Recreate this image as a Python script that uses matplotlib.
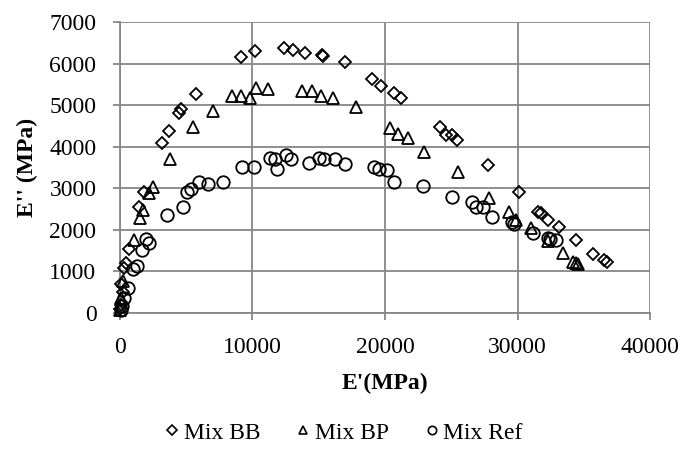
import matplotlib
matplotlib.use("Agg")
import matplotlib.pyplot as plt
from matplotlib.lines import Line2D

plt.rcParams['font.family'] = ['Liberation Serif', 'DejaVu Serif']

bb_x = [20, 50, 100, 200, 330, 450, 650, 1410, 1840, 3180, 3730, 4440, 4620, 5730,
        9170, 10170, 12390, 13080, 13960, 15230, 15350, 16990, 19020, 19700, 20700,
        21210, 24140, 24570, 25080, 25450, 27770, 30120, 31560, 31770, 32320, 33130,
        34440, 35700, 36510, 36770]
bb_y = [100, 200, 700, 500, 1080, 1200, 1540, 2560, 2920, 4090, 4380, 4810, 4900, 5265,
        6150, 6300, 6380, 6330, 6250, 6200, 6185, 6030, 5625, 5450, 5300,
        5160, 4470, 4290, 4290, 4150, 3550, 2900, 2440, 2400, 2240, 2080,
        1745, 1425, 1280, 1215]

bp_x = [30, 80, 200, 1080, 1510, 1710, 2220, 2470, 3810, 5500, 7020, 8480, 9170, 9800,
        10250, 11180, 13710, 14470, 15150, 16110, 17800, 20400, 20980, 21740, 22980,
        25530, 27850, 29360, 29870, 31010, 32320, 33430, 34170, 34420, 34550]
bp_y = [80, 350, 760, 1760, 2280, 2480, 2880, 3040, 3700, 4470, 4850, 5210, 5225, 5170,
        5410, 5385, 5345, 5330, 5210, 5170, 4950, 4460, 4300, 4220, 3880,
        3400, 2760, 2430, 2240, 2040, 1720, 1440, 1215, 1200, 1185]

ref_x = [40, 120, 330, 580, 1010, 1260, 1640, 1970, 2170, 3530, 4740, 5050, 5380, 5930,
         6640, 7770, 9210, 10100, 11310, 11690, 11820, 12500, 12900, 14290, 15050,
         15420, 16230, 16990, 19140, 19520, 20150, 20700, 22850, 25080, 26590, 26840,
         27420, 28110, 29620, 29740, 31140, 32270, 32470, 32900]
ref_y = [60, 180, 360, 600, 1060, 1140, 1505, 1780, 1680, 2360, 2560, 2900, 2980, 3140,
         3100, 3160, 3500, 3500, 3740, 3700, 3460, 3805, 3700, 3605, 3740,
         3700, 3710, 3580, 3510, 3460, 3430, 3140, 3045, 2800, 2680, 2550,
         2550, 2300, 2180, 2150, 1925, 1800, 1780, 1760]

series_labels = ["Mix BB", "Mix BP", "Mix Ref"]
x_ticks = [0, 10000, 20000, 30000, 40000]
y_ticks = [0, 1000, 2000, 3000, 4000, 5000, 6000, 7000]

fig = plt.figure(figsize=(6.88, 4.67), dpi=100)
ax = fig.add_axes([0.1744, 0.3298, 0.7704, 0.6231])

grey = '#878787'
mk = dict(linestyle='none', markerfacecolor='none', markeredgecolor='black',
          markeredgewidth=1.3, clip_on=False, zorder=3)
ax.plot(bb_x, bb_y, marker='D', markersize=6.5, label=series_labels[0], **mk)
ax.plot(bp_x, bp_y, marker='^', markersize=8.5, label=series_labels[1], **mk)
ax.plot(ref_x, ref_y, marker='o', markersize=9, label=series_labels[2], **mk)

ax.set_xlim(0, 40000)
ax.set_ylim(0, 7000)
ax.set_xticks(x_ticks)
ax.set_yticks(y_ticks)
ax.grid(True, color=grey, linewidth=1.3)
ax.set_axisbelow(True)
for s in ['top', 'right']:
    ax.spines[s].set_visible(False)
for s in ['left', 'bottom']:
    ax.spines[s].set_color(grey)
    ax.spines[s].set_linewidth(1.3)
ax.tick_params(axis='both', direction='out', length=5, width=1.3, color=grey,
               labelsize=17)
ax.tick_params(axis='x', pad=12)
ax.tick_params(axis='y', pad=12)

ax.set_xlabel("E'(MPa)", fontsize=17, fontweight='bold', labelpad=11)
ax.set_ylabel("E'' (MPa)", fontsize=17, fontweight='bold', labelpad=8)

handles = [
    Line2D([], [], marker='D', markersize=5, linestyle='none', markerfacecolor='none',
           markeredgecolor='black', markeredgewidth=1.2),
    Line2D([], [], marker='^', markersize=6, linestyle='none', markerfacecolor='none',
           markeredgecolor='black', markeredgewidth=1.2),
    Line2D([], [], marker='o', markersize=6, linestyle='none', markerfacecolor='none',
           markeredgecolor='black', markeredgewidth=1.2),
]
fig.legend(handles, series_labels, loc='center', bbox_to_anchor=(0.5, 0.073), ncol=3,
           frameon=False, fontsize=17, handlelength=0.6, handletextpad=0.2,
           columnspacing=1.5)

fig.savefig("out.png", dpi=100)
